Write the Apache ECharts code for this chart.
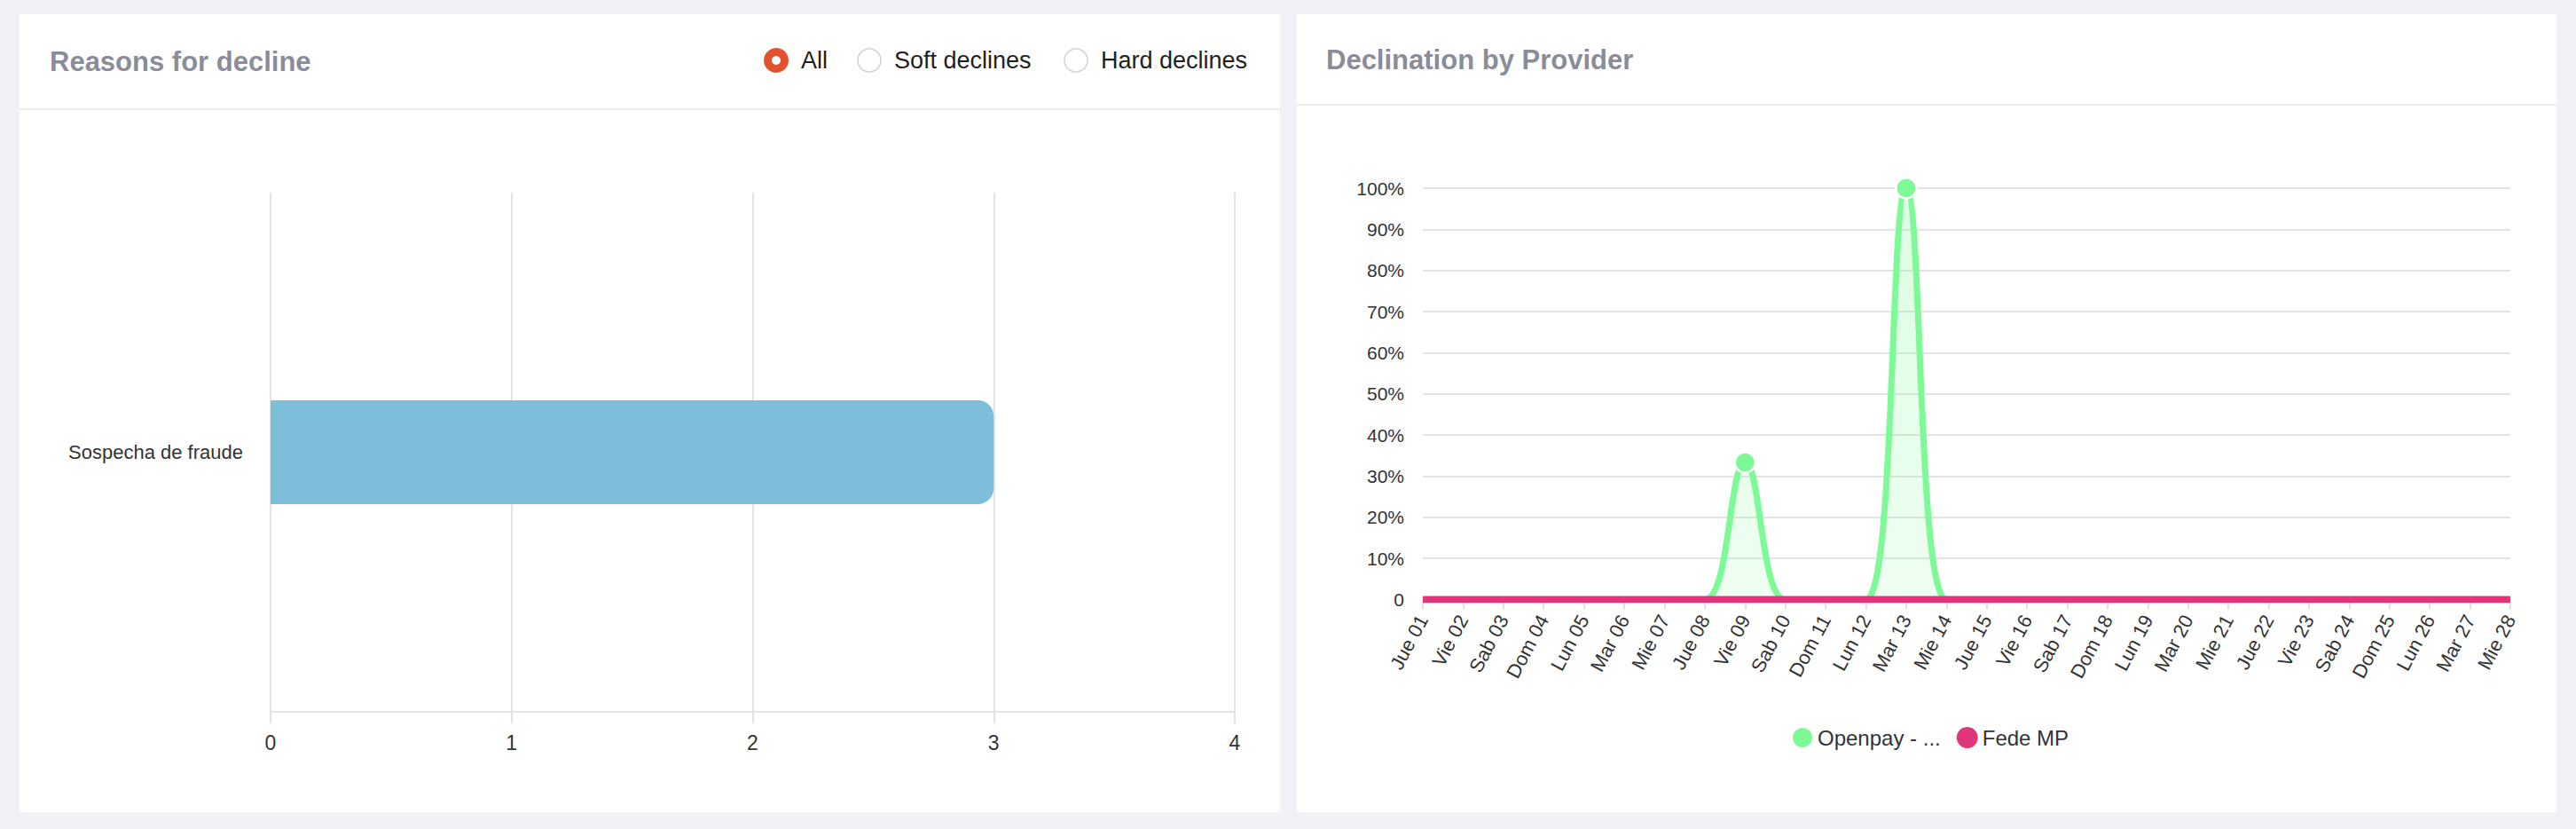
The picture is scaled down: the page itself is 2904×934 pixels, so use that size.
<!DOCTYPE html>
<html>
<head>
<meta charset="utf-8">
<script src="https://cdn.jsdelivr.net/npm/echarts@6/dist/echarts.min.js"></script>
<style>
html,body{margin:0;padding:0;background:#f2f2f6;}
#wrap{position:relative;width:2904px;height:934px;overflow:hidden;}
.card{position:absolute;top:16px;height:899px;background:#ffffff;}
.rule{position:absolute;height:2px;background:#ebebee;}
#chart{position:absolute;left:0;top:0;width:2904px;height:934px;}
</style>
</head>
<body>
<div id="wrap">
  <div class="card" style="left:22px;width:1421px"></div>
  <div class="card" style="left:1462px;width:1420px"></div>
  <div class="rule" style="left:22px;width:1421px;top:122px"></div>
  <div class="rule" style="left:1462px;width:1420px;top:117px"></div>
  <div id="chart"></div>
</div>
<script>
// ---- data ----
const leftTitle = 'Reasons for decline';
const rightTitle = 'Declination by Provider';
const filterOptions = ['All', 'Soft declines', 'Hard declines'];
const reasonCategories = ['Sospecha de fraude'];
const reasonCounts = [3];
const reasonAxisMax = 4;
const dayLabels = ['Jue 01','Vie 02','Sab 03','Dom 04','Lun 05','Mar 06','Mie 07','Jue 08','Vie 09','Sab 10','Dom 11','Lun 12','Mar 13','Mie 14','Jue 15','Vie 16','Sab 17','Dom 18','Lun 19','Mar 20','Mie 21','Jue 22','Vie 23','Sab 24','Dom 25','Lun 26','Mar 27','Mie 28'];
const openpayName = 'Openpay - ...';
const openpayRates = [0,0,0,0,0,0,0,0,33.33,0,0,0,100,0,0,0,0,0,0,0,0,0,0,0,0,0,0,0];
const fedeName = 'Fede MP';
const fedeRates = [0,0,0,0,0,0,0,0,0,0,0,0,0,0,0,0,0,0,0,0,0,0,0,0,0,0,0,0];

// ---- chart ----
const FONT = '"Liberation Sans", Arial, Helvetica, sans-serif';
const GREEN = '#7dfa96';
const PINK = '#e0377a';
const GRIDC = '#e3e3e3';
const chart = echarts.init(document.getElementById('chart'), null, {renderer: 'svg'});

const radioX = [875, 980, 1213];
const radioTextX = [903, 1008, 1241];
const graphics = [
  {type: 'text', x: 56, y: 69, style: {text: leftTitle, fontFamily: FONT, fontSize: 31, fontWeight: 'bold', fill: '#8b8c9a', verticalAlign: 'middle', align: 'left'}},
  {type: 'text', x: 1495, y: 67, style: {text: rightTitle, fontFamily: FONT, fontSize: 31, fontWeight: 'bold', fill: '#8b8c9a', verticalAlign: 'middle', align: 'left'}}
];
filterOptions.forEach(function (name, i) {
  if (i === 0) {
    graphics.push({type: 'circle', shape: {cx: radioX[i], cy: 68, r: 14}, style: {fill: '#e0532e'}});
    graphics.push({type: 'circle', shape: {cx: radioX[i], cy: 68, r: 5}, style: {fill: '#ffffff'}});
  } else {
    graphics.push({type: 'circle', shape: {cx: radioX[i], cy: 68, r: 13}, style: {fill: '#ffffff', stroke: '#cfd3da', lineWidth: 1.5}});
  }
  graphics.push({type: 'text', x: radioTextX[i], y: 68, style: {text: name, fontFamily: FONT, fontSize: 27, fill: '#1f1f1f', verticalAlign: 'middle', align: 'left'}});
});

const option = {
  animation: false,
  textStyle: {fontFamily: FONT},
  graphic: graphics,
  grid: [
    {left: 305, top: 217, width: 1087, height: 585},
    {left: 1604, top: 212, width: 1226, height: 463.5}
  ],
  legend: {
    left: 2014, top: 813,
    icon: 'circle', itemWidth: 24, itemHeight: 24, itemGap: 18,
    textStyle: {fontSize: 24, color: '#333333', fontFamily: FONT},
    data: [openpayName, fedeName]
  },
  xAxis: [
    {
      gridIndex: 0, type: 'value', min: 0, max: reasonAxisMax, interval: 1,
      axisLine: {show: true, lineStyle: {color: GRIDC, width: 2}},
      axisTick: {show: true, length: 13, lineStyle: {color: GRIDC, width: 2}},
      axisLabel: {fontSize: 23, color: '#333333', margin: 23},
      splitLine: {show: true, lineStyle: {color: GRIDC, width: 2}}
    },
    {
      gridIndex: 1, type: 'category', data: dayLabels, boundaryGap: false,
      axisLine: {show: true, lineStyle: {color: GRIDC, width: 2}},
      axisTick: {show: true, length: 11, lineStyle: {color: GRIDC, width: 2}},
      axisLabel: {rotate: 62, fontSize: 22, color: '#333333', margin: 19, interval: 0},
      splitLine: {show: false}
    }
  ],
  yAxis: [
    {
      gridIndex: 0, type: 'category', data: reasonCategories,
      axisLine: {show: false}, axisTick: {show: false},
      axisLabel: {fontSize: 22, color: '#333333', margin: 31, padding: [39, 0, 0, 0]}
    },
    {
      gridIndex: 1, type: 'value', min: 0, max: 100, interval: 10,
      axisLine: {show: false}, axisTick: {show: false},
      axisLabel: {fontSize: 21, color: '#333333', margin: 21, padding: [0, 0, 8, 0], formatter: function (v) { return v === 0 ? '0' : v + '%'; }},
      splitLine: {show: true, lineStyle: {color: GRIDC, width: 2}}
    }
  ],
  series: [
    {
      type: 'bar', xAxisIndex: 0, yAxisIndex: 0, data: reasonCounts,
      barWidth: 117,
      itemStyle: {color: '#7dbedb', borderRadius: [0, 18, 18, 0]}
    },
    {
      name: openpayName, type: 'line', xAxisIndex: 1, yAxisIndex: 1, data: openpayRates,
      smooth: 0.4, symbol: 'circle', showAllSymbol: true,
      symbolSize: function (v) { return v > 0 ? 23 : 0; },
      lineStyle: {width: 7, color: GREEN},
      itemStyle: {color: GREEN, borderColor: '#ffffff', borderWidth: 2.5},
      areaStyle: {color: new echarts.graphic.LinearGradient(0, 0, 0, 1, [
        {offset: 0, color: 'rgba(125,250,150,0.38)'},
        {offset: 1, color: 'rgba(125,250,150,0.18)'}
      ])},
      z: 2
    },
    {
      name: fedeName, type: 'line', xAxisIndex: 1, yAxisIndex: 1, data: fedeRates,
      symbol: 'none',
      lineStyle: {width: 8, color: PINK},
      itemStyle: {color: PINK},
      z: 3
    }
  ]
};
chart.setOption(option);
</script>
</body>
</html>
